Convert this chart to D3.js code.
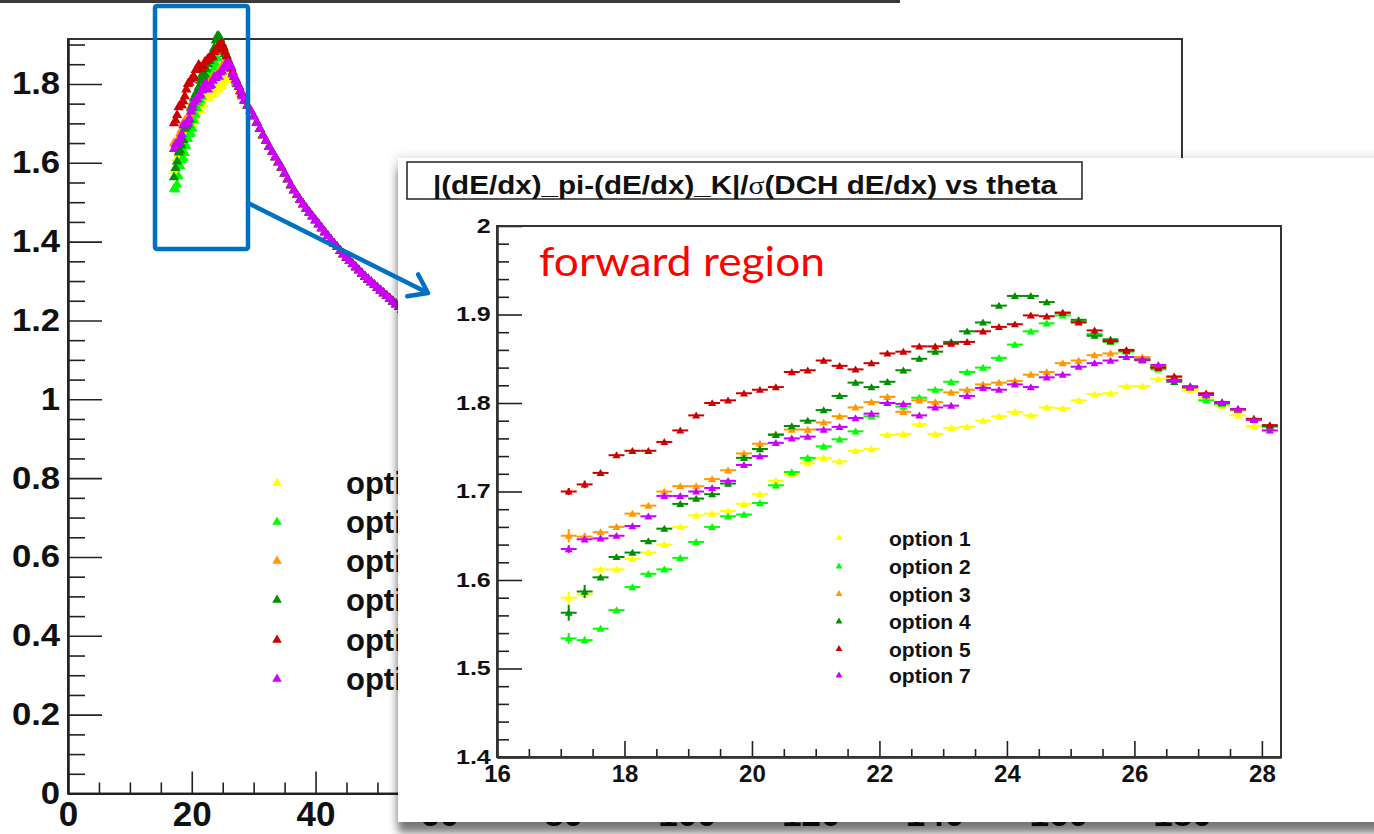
<!DOCTYPE html>
<html lang="en">
<head>
<meta charset="UTF-8">
<title>dE/dx separation vs theta</title>
<script src="https://d3js.org/d3.v7.min.js"></script>
<style>
  body { margin: 0; background: #fff; }
  svg { display: block; }
</style>
</head>
<body>
<svg id="chart" width="1374" height="834"></svg>
<script>
// bin centres of the zoomed (forward) region, degrees
const theta = [17.125, 17.375, 17.625, 17.875, 18.125, 18.375, 18.625, 18.875, 19.125, 19.375,
  19.625, 19.875, 20.125, 20.375, 20.625, 20.875, 21.125, 21.375, 21.625, 21.875,
  22.125, 22.375, 22.625, 22.875, 23.125, 23.375, 23.625, 23.875, 24.125, 24.375,
  24.625, 24.875, 25.125, 25.375, 25.625, 25.875, 26.125, 26.375, 26.625, 26.875,
  27.125, 27.375, 27.625, 27.875, 28.125];

const option1 = [1.580, 1.584, 1.612, 1.612, 1.624, 1.631, 1.640, 1.660, 1.673, 1.675,
  1.678, 1.686, 1.697, 1.712, 1.719, 1.732, 1.738, 1.734, 1.746, 1.748,
  1.764, 1.765, 1.776, 1.765, 1.772, 1.773, 1.780, 1.785, 1.790, 1.786,
  1.795, 1.794, 1.803, 1.810, 1.811, 1.819, 1.819, 1.827, 1.826, 1.814,
  1.806, 1.797, 1.786, 1.774, 1.769];
const option2 = [1.534, 1.532, 1.545, 1.566, 1.592, 1.607, 1.612, 1.625, 1.643, 1.660,
  1.672, 1.674, 1.687, 1.707, 1.722, 1.738, 1.751, 1.759, 1.768, 1.785,
  1.800, 1.796, 1.806, 1.815, 1.824, 1.835, 1.840, 1.851, 1.866, 1.881,
  1.890, 1.899, 1.892, 1.878, 1.869, 1.858, 1.848, 1.838, 1.826, 1.818,
  1.803, 1.799, 1.792, 1.782, 1.773];
const option3 = [1.650, 1.649, 1.654, 1.660, 1.675, 1.684, 1.700, 1.706, 1.706, 1.714,
  1.724, 1.743, 1.754, 1.765, 1.770, 1.770, 1.778, 1.785, 1.795, 1.801,
  1.807, 1.790, 1.803, 1.801, 1.812, 1.815, 1.821, 1.823, 1.825, 1.832,
  1.835, 1.845, 1.848, 1.854, 1.856, 1.859, 1.852, 1.841, 1.829, 1.817,
  1.810, 1.800, 1.792, 1.781, 1.773];
const option4 = [1.563, 1.587, 1.603, 1.626, 1.631, 1.644, 1.658, 1.686, 1.692, 1.697,
  1.709, 1.738, 1.748, 1.764, 1.774, 1.780, 1.792, 1.808, 1.823, 1.818,
  1.824, 1.837, 1.850, 1.858, 1.869, 1.881, 1.891, 1.910, 1.921, 1.921,
  1.914, 1.902, 1.894, 1.876, 1.872, 1.859, 1.849, 1.840, 1.824, 1.819,
  1.809, 1.800, 1.793, 1.782, 1.774];
const option5 = [1.700, 1.708, 1.721, 1.741, 1.746, 1.746, 1.756, 1.769, 1.786, 1.800,
  1.803, 1.811, 1.815, 1.818, 1.835, 1.837, 1.848, 1.842, 1.838, 1.845,
  1.856, 1.858, 1.864, 1.864, 1.867, 1.869, 1.881, 1.886, 1.889, 1.899,
  1.898, 1.902, 1.891, 1.882, 1.870, 1.860, 1.849, 1.840, 1.830, 1.818,
  1.811, 1.801, 1.793, 1.782, 1.775];
const option7 = [1.635, 1.646, 1.647, 1.650, 1.661, 1.672, 1.695, 1.695, 1.700, 1.704,
  1.712, 1.730, 1.740, 1.755, 1.760, 1.762, 1.770, 1.773, 1.783, 1.788,
  1.800, 1.799, 1.786, 1.795, 1.797, 1.808, 1.817, 1.815, 1.821, 1.818,
  1.829, 1.832, 1.841, 1.845, 1.848, 1.852, 1.849, 1.843, 1.826, 1.818,
  1.809, 1.800, 1.793, 1.781, 1.769];

// vertical errors of the first two bins (the rest are tiny)
const firstBinErrors = [[0.007, 0.004], [0.006, 0.004], [0.0075, 0.004],
  [0.009, 0.0075], [0.004, 0.0043], [0.0045, 0.003]];
const defaultErr = 0.0022;

// beyond ~28 deg all options sit on one common curve (only seen in the full-range plot)
const tailTheta = [28.5, 29, 29.5, 30, 30.5, 31, 31.5, 32, 32.5, 33, 33.5, 34, 34.5,
  35, 35.5, 36, 36.5, 37, 37.5, 38, 38.5, 39, 39.5, 40, 40.5, 41, 41.5, 42, 42.5,
  43, 43.5, 44, 44.5, 45, 45.5, 46, 46.5, 47, 47.5, 48, 48.5, 49, 49.5, 50, 50.5,
  51, 51.5, 52, 52.5, 53, 53.5, 54];
const tailValues = [1.758, 1.745, 1.732, 1.718, 1.702, 1.686, 1.670, 1.656, 1.641, 1.627,
  1.614, 1.601, 1.588, 1.573, 1.558, 1.543, 1.530, 1.518, 1.506, 1.495, 1.484, 1.474,
  1.464, 1.454, 1.444, 1.434, 1.424, 1.414, 1.404, 1.395, 1.386, 1.377, 1.368, 1.359,
  1.351, 1.343, 1.335, 1.327, 1.319, 1.311, 1.304, 1.297, 1.290, 1.283, 1.276, 1.269,
  1.262, 1.255, 1.248, 1.241, 1.234, 1.227];

const seriesNames = ['option 1', 'option 2', 'option 3', 'option 4', 'option 5', 'option 7'];
const seriesValues = [option1, option2, option3, option4, option5, option7];
const seriesColors = ['#ffff00', '#00ff00', '#ff9900', '#008f00', '#cc0000', '#cc00ff'];

const bgXTicks = [0, 20, 40, 60, 80, 100, 120, 140, 160, 180];
const bgYTicks = [0, 0.2, 0.4, 0.6, 0.8, 1, 1.2, 1.4, 1.6, 1.8];
const insetXTicks = [16, 18, 20, 22, 24, 26, 28];
const insetYTicks = [1.4, 1.5, 1.6, 1.7, 1.8, 1.9, 2];

const titleParts = ['|(dE/dx)_pi-(dE/dx)_K|/', 'σ', '(DCH dE/dx) vs theta'];
const noteText = 'forward region';

const ROOT_FONT = '"Liberation Sans", Arial, Helvetica, sans-serif';
const plain = d => String(d);

const svg = d3.select('#chart');

// soft slide shadow under the inset picture
const defs = svg.append('defs');
const f = defs.append('filter').attr('id', 'shadow')
  .attr('x', '-5%').attr('y', '-5%').attr('width', '110%').attr('height', '115%');
f.append('feDropShadow').attr('dx', 0).attr('dy', 11).attr('stdDeviation', 4)
  .attr('flood-color', '#000').attr('flood-opacity', 0.5);
const f2 = defs.append('filter').attr('id', 'halo')
  .attr('x', '-5%').attr('y', '-5%').attr('width', '110%').attr('height', '115%');
f2.append('feGaussianBlur').attr('stdDeviation', 5);
// the background legend is covered by the inset from x = 398 on
defs.append('clipPath').attr('id', 'legendClip')
  .append('rect').attr('x', 0).attr('y', 0).attr('width', 398).attr('height', 834);

function styleAxis(g, fontSize, scaleX) {
  g.select('.domain').attr('stroke', '#222').attr('stroke-width', 2);
  g.selectAll('.tick line').attr('stroke', '#222').attr('stroke-width', 1.6);
  if (!fontSize) { g.selectAll('.tick text').remove(); return; }
  const t = g.selectAll('.tick text')
    .attr('fill', '#111')
    .style('font-family', ROOT_FONT)
    .style('font-weight', 'bold')
    .style('font-size', fontSize + 'px');
  if (scaleX) t.attr('transform', `scale(${scaleX},1)`);
}

// ---------- full-range plot (background) ----------
const xBg = d3.scaleLinear().domain([0, 180]).range([68, 1182]);
const yBg = d3.scaleLinear().domain([0, 1.914]).range([793.5, 39]);

const bg = svg.append('g');

bg.append('rect').attr('x', 0).attr('y', 0).attr('width', 900).attr('height', 3).attr('fill', '#3a3a3a');

bg.append('rect')
  .attr('x', xBg(0)).attr('y', yBg(1.914))
  .attr('width', xBg(180) - xBg(0)).attr('height', yBg(0) - yBg(1.914))
  .attr('fill', 'none').attr('stroke', '#333').attr('stroke-width', 2);

const bgYMinor = d3.range(0, 39).filter(i => i % 4 !== 0).map(i => i * 0.05);
const bgXMinor = d3.range(0, 37).filter(i => i % 4 !== 0).map(i => i * 5);

bg.append('g').attr('transform', `translate(${xBg(0)},0)`)
  .call(d3.axisLeft(yBg).tickValues(bgYMinor).tickFormat('').tickSize(-17).tickSizeOuter(0))
  .call(g => styleAxis(g, 0));
bg.append('g').attr('transform', `translate(${xBg(0)},0)`)
  .call(d3.axisLeft(yBg).tickValues(bgYTicks).tickFormat(plain).tickSize(-34).tickSizeOuter(0).tickPadding(7))
  .call(g => styleAxis(g, 31, 1.12));

bg.append('g').attr('transform', `translate(0,${yBg(0)})`)
  .call(d3.axisBottom(xBg).tickValues(bgXMinor).tickFormat('').tickSize(-11).tickSizeOuter(0))
  .call(g => styleAxis(g, 0));
bg.append('g').attr('transform', `translate(0,${yBg(0)})`)
  .call(d3.axisBottom(xBg).tickValues(bgXTicks).tickFormat(plain).tickSize(-22).tickSizeOuter(0).tickPadding(8))
  .call(g => styleAxis(g, 35));

const bgSymbol = d3.symbol().type(d3.symbolTriangle).size(46);
seriesValues.forEach((vals, i) => {
  const pts = theta.map((t, k) => [t, vals[k]])
    .concat(tailTheta.map((t, k) => [t, tailValues[k]]));
  bg.append('g').selectAll('path').data(pts).join('path')
    .attr('d', bgSymbol)
    .attr('transform', d => `translate(${xBg(d[0])},${yBg(d[1])})`)
    .attr('fill', seriesColors[i]);
});

const bgLegendRows = [483, 522, 561, 600, 640, 679];
const bgLegend = bg.append('g').attr('clip-path', 'url(#legendClip)');
seriesNames.forEach((name, i) => {
  bgLegend.append('path').attr('d', d3.symbol().type(d3.symbolTriangle).size(40))
    .attr('transform', `translate(277,${bgLegendRows[i]})`).attr('fill', seriesColors[i]);
  bgLegend.append('text').attr('x', 346).attr('y', bgLegendRows[i]).attr('dy', '0.36em')
    .style('font-family', ROOT_FONT).style('font-weight', 'bold').style('font-size', '31px')
    .attr('fill', '#111').text(name);
});

// ---------- zoomed inset ----------
const inset = svg.append('g');
inset.append('rect').attr('x', 396).attr('y', 156).attr('width', 1010).attr('height', 668)
  .attr('fill', '#000').attr('opacity', 0.12).attr('filter', 'url(#halo)');
inset.append('rect').attr('x', 398).attr('y', 158).attr('width', 1010).attr('height', 664)
  .attr('fill', '#fff').attr('filter', 'url(#shadow)');

inset.append('rect').attr('x', 407).attr('y', 162).attr('width', 675).attr('height', 37)
  .attr('fill', '#fff').attr('stroke', '#222').attr('stroke-width', 1.5);
const title = inset.append('text').attr('x', 433).attr('y', 194)
  .attr('textLength', 624).attr('lengthAdjust', 'spacingAndGlyphs')
  .style('font-family', ROOT_FONT).style('font-weight', 'bold').style('font-size', '26px')
  .attr('fill', '#111');
title.append('tspan').text(titleParts[0]);
title.append('tspan').style('font-family', '"Liberation Serif", "DejaVu Serif", serif')
  .style('font-weight', 'normal').text(titleParts[1]);
title.append('tspan').text(titleParts[2]);

const xIn = d3.scaleLinear().domain([16, 28.3]).range([497, 1281]);
const yIn = d3.scaleLinear().domain([1.4, 2]).range([757, 226]);

const inXMinor = d3.range(0, 25).filter(i => i % 4 !== 0).map(i => 16 + i * 0.5);
const inYMinor = d3.range(0, 31).filter(i => i % 5 !== 0).map(i => 1.4 + i * 0.02);

inset.append('g').attr('transform', `translate(${xIn(16)},0)`)
  .call(d3.axisLeft(yIn).tickValues(inYMinor).tickFormat('').tickSize(-12).tickSizeOuter(0))
  .call(g => styleAxis(g, 0));
inset.append('g').attr('transform', `translate(${xIn(16)},0)`)
  .call(d3.axisLeft(yIn).tickValues(insetYTicks).tickFormat(plain).tickSize(-25).tickSizeOuter(0).tickPadding(5))
  .call(g => styleAxis(g, 20, 1.25));
inset.append('g').attr('transform', `translate(0,${yIn(1.4)})`)
  .call(d3.axisBottom(xIn).tickValues(inXMinor).tickFormat('').tickSize(-8).tickSizeOuter(0))
  .call(g => styleAxis(g, 0));
inset.append('g').attr('transform', `translate(0,${yIn(1.4)})`)
  .call(d3.axisBottom(xIn).tickValues(insetXTicks).tickFormat(plain).tickSize(-16).tickSizeOuter(0).tickPadding(8))
  .call(g => styleAxis(g, 24));

inset.append('rect').attr('x', xIn(16)).attr('y', yIn(2))
  .attr('width', xIn(28.3) - xIn(16)).attr('height', yIn(1.4) - yIn(2))
  .attr('fill', 'none').attr('stroke', '#333').attr('stroke-width', 2);

inset.append('text').attr('x', 539).attr('y', 276)
  .attr('textLength', 286).attr('lengthAdjust', 'spacingAndGlyphs')
  .style('font-family', 'Lato, "Open Sans", sans-serif').style('font-size', '41px')
  .attr('fill', '#ff0000').text(noteText);

const inSymbol = d3.symbol().type(d3.symbolTriangle).size(28);
const halfBin = 0.125;
seriesValues.forEach((vals, i) => {
  const pts = theta.map((t, k) => ({
    t, v: vals[k], e: k < firstBinErrors[i].length ? firstBinErrors[i][k] : defaultErr
  }));
  const g = inset.append('g').attr('stroke', seriesColors[i]).attr('stroke-width', 2);
  g.selectAll('line.h').data(pts).join('line').attr('class', 'h')
    .attr('x1', d => xIn(d.t - halfBin)).attr('x2', d => xIn(d.t + halfBin))
    .attr('y1', d => yIn(d.v)).attr('y2', d => yIn(d.v));
  g.selectAll('line.v').data(pts).join('line').attr('class', 'v')
    .attr('x1', d => xIn(d.t)).attr('x2', d => xIn(d.t))
    .attr('y1', d => yIn(d.v - d.e)).attr('y2', d => yIn(d.v + d.e));
  g.selectAll('path').data(pts).join('path')
    .attr('d', inSymbol).attr('stroke', 'none').attr('fill', seriesColors[i])
    .attr('transform', d => `translate(${xIn(d.t)},${yIn(d.v) + 0.8})`);
});

const inLegendRows = [538, 566.5, 594, 621.5, 649, 675.5];
seriesNames.forEach((name, i) => {
  inset.append('path').attr('d', d3.symbol().type(d3.symbolTriangle).size(20))
    .attr('transform', `translate(839,${inLegendRows[i]})`).attr('fill', seriesColors[i]);
  inset.append('text').attr('x', 889).attr('y', inLegendRows[i]).attr('dy', '0.36em')
    .style('font-family', ROOT_FONT).style('font-weight', 'bold').style('font-size', '21px')
    .attr('fill', '#111').text(name);
});

// ---------- slide annotation: box + arrow ----------
const blue = '#0070c0';
svg.append('rect').attr('x', 155).attr('y', 6).attr('width', 93).attr('height', 243)
  .attr('rx', 2).attr('fill', 'none').attr('stroke', blue).attr('stroke-width', 4.5);

const a0 = [248, 203], a1 = [428, 293];
const ang = Math.atan2(a1[1] - a0[1], a1[0] - a0[0]);
const headLen = 21, spread = 0.62;
const arm = s => [a1[0] - headLen * Math.cos(ang + s), a1[1] - headLen * Math.sin(ang + s)];
svg.append('path')
  .attr('d', `M${a0}L${a1}M${arm(spread)}L${a1}L${arm(-spread)}`)
  .attr('fill', 'none').attr('stroke', blue).attr('stroke-width', 4.5)
  .attr('stroke-linecap', 'round').attr('stroke-linejoin', 'round');
</script>
</body>
</html>
